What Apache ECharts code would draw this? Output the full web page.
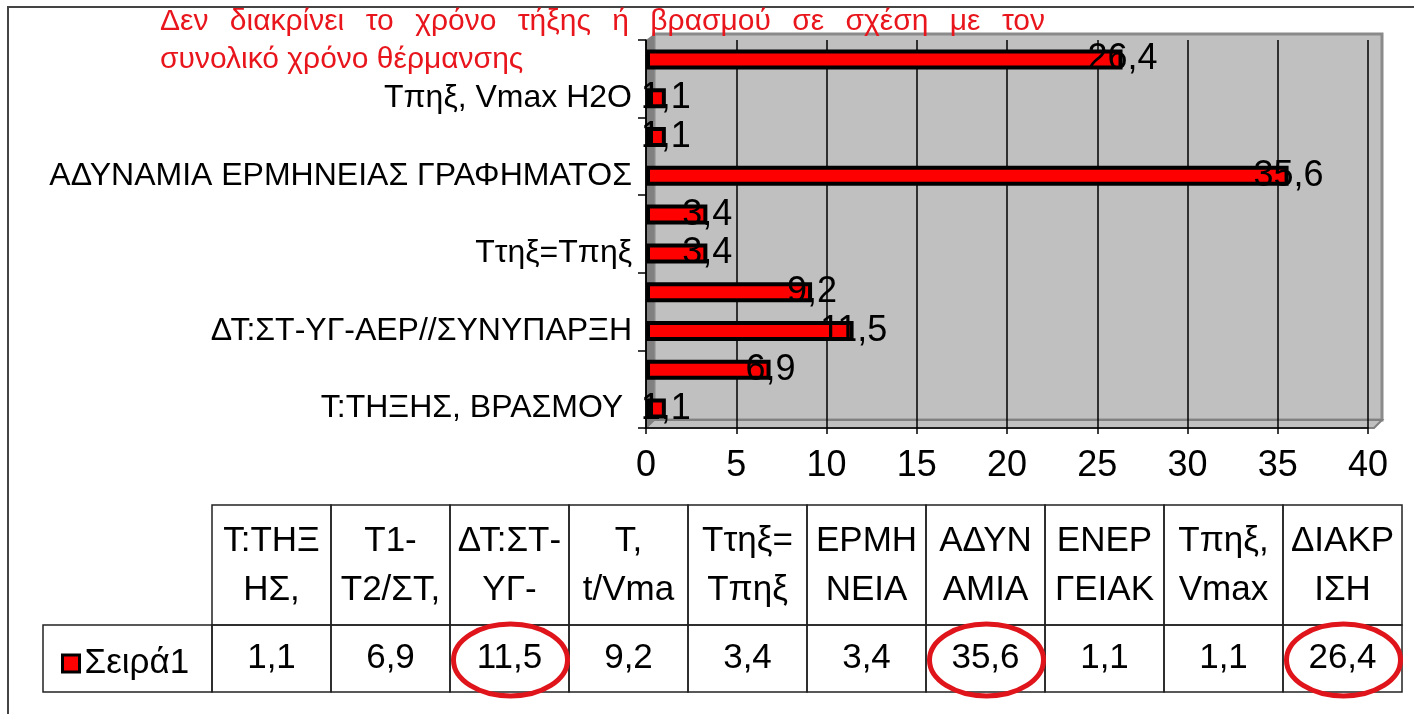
<!DOCTYPE html>
<html>
<head>
<meta charset="utf-8">
<script src="https://cdn.jsdelivr.net/npm/echarts@6/dist/echarts.min.js"></script>
<style>
html, body { margin: 0; padding: 0; background: #fff; }
#main { width: 1414px; height: 714px; }
</style>
</head>
<body>
<div id="main"></div>
<script>
// categories from bottom to top, as the bars are stacked in the chart
var categories = ['Τ:ΤΗΞΗΣ, ΒΡΑΣΜΟΥ ', 'Τ1-Τ2/ΣΤ,', 'ΔΤ:ΣΤ-ΥΓ-ΑΕΡ//ΣΥΝΥΠΑΡΞΗ', 'Τ, t/Vmax', 'Ττηξ=Τπηξ',
                  'ΕΡΜΗΝΕΙΑ', 'ΑΔΥΝΑΜΙΑ ΕΡΜΗΝΕΙΑΣ ΓΡΑΦΗΜΑΤΟΣ', 'ΕΝΕΡΓΕΙΑΚ', 'Τπηξ, Vmax H2O', 'ΔΙΑΚΡΙΣΗ'];
var values = [1.1, 6.9, 11.5, 9.2, 3.4, 3.4, 35.6, 1.1, 1.1, 26.4];
// the data table under the chart cuts the names like this
var tableHeads = [['Τ:ΤΗΞ', 'ΗΣ,'], ['Τ1-', 'Τ2/ΣΤ,'], ['ΔΤ:ΣΤ-', 'ΥΓ-'], ['Τ,', 't/Vma'], ['Ττηξ=', 'Τπηξ'],
                  ['ΕΡΜΗ', 'ΝΕΙΑ'], ['ΑΔΥΝ', 'ΑΜΙΑ'], ['ΕΝΕΡ', 'ΓΕΙΑΚ'], ['Τπηξ,', 'Vmax'], ['ΔΙΑΚΡ', 'ΙΣΗ']];
var circled = [2, 6, 9];
var seriesName = 'Σειρά1';
var xMin = 0, xMax = 40, xStep = 5;
var note = ['Δεν διακρίνει το χρόνο τήξης ή βρασμού σε σχέση με τον', 'συνολικό χρόνο θέρμανσης'];

var FONT = '"Liberation Sans", Arial, sans-serif';
function comma(v) { return String(v).replace('.', ','); }

// plot box
var gL = 646, gR = 1368, gT = 40, gB = 428;

var graphics = [];

// outer frame
graphics.push({ type: 'polyline', shape: { points: [[8, 714], [8, 7], [1414, 7]] },
    style: { stroke: '#444', lineWidth: 2, fill: null }, z: 20 });

// 3d walls
graphics.push({ type: 'rect', shape: { x: gL + 8, y: gT - 6, width: gR - gL + 6, height: gB - gT - 2 },
    style: { fill: '#c0c0c0', stroke: '#8a8a8a', lineWidth: 3 }, z: -2 });
graphics.push({ type: 'polygon', shape: { points: [[gL, gB], [gL, gT], [gL + 8, gT - 6], [gL + 8, gB - 8]] },
    style: { fill: '#808080' }, z: -1 });
graphics.push({ type: 'polygon', shape: { points: [[gL, gB], [gL + 8, gB - 8], [gR + 14, gB - 8], [gR + 6, gB]] },
    style: { fill: '#c0c0c0', stroke: '#808080', lineWidth: 2 }, z: -1 });

// red note, first line justified like in Word
var ctx = document.createElement('canvas').getContext('2d');
var noteFont = '30px ' + FONT;
ctx.font = noteFont;
var words = note[0].split(' ');
var total = 0;
words.forEach(function (w) { total += ctx.measureText(w).width; });
var gap = (1045 - 160 - total) / (words.length - 1);
var nx = 160;
words.forEach(function (w) {
    graphics.push({ type: 'text', x: nx, y: 22, z: 20,
        style: { text: w, font: noteFont, fill: '#e8161c', verticalAlign: 'middle' } });
    nx += ctx.measureText(w).width + gap;
});
graphics.push({ type: 'text', x: 160, y: 60, z: 20,
    style: { text: note[1], font: noteFont, fill: '#e8161c', verticalAlign: 'middle' } });

// data table
var tX = 212, colW = 119, hTop = 505, hH = 120, vH = 67;
var cellFont = '35px ' + FONT;
graphics.push({ type: 'rect', shape: { x: 43, y: hTop + hH, width: tX - 43, height: vH },
    style: { fill: null, stroke: '#222', lineWidth: 1.5 }, z: 20 });
tableHeads.forEach(function (h, i) {
    var x0 = tX + i * colW, cx = x0 + colW / 2;
    graphics.push({ type: 'rect', shape: { x: x0, y: hTop, width: colW, height: hH },
        style: { fill: null, stroke: '#222', lineWidth: 1.5 }, z: 20 });
    graphics.push({ type: 'rect', shape: { x: x0, y: hTop + hH, width: colW, height: vH },
        style: { fill: null, stroke: '#222', lineWidth: 1.5 }, z: 20 });
    graphics.push({ type: 'text', x: cx, y: 541, z: 21,
        style: { text: h[0], font: cellFont, fill: '#000', align: 'center', verticalAlign: 'middle' } });
    graphics.push({ type: 'text', x: cx, y: 590, z: 21,
        style: { text: h[1], font: cellFont, fill: '#000', align: 'center', verticalAlign: 'middle' } });
    graphics.push({ type: 'text', x: cx, y: hTop + hH + vH / 2, z: 21,
        style: { text: comma(values[i]), font: cellFont, fill: '#000', align: 'center', verticalAlign: 'middle' } });
});
circled.forEach(function (i) {
    graphics.push({ type: 'ellipse', shape: { cx: tX + i * colW + colW / 2 + 1, cy: 660, rx: 57, ry: 36 },
        style: { fill: null, stroke: '#e0151b', lineWidth: 5 }, z: 22 });
});

var myChart = echarts.init(document.getElementById('main'));

option = {
    animation: false,
    backgroundColor: '#fff',
    textStyle: { fontFamily: FONT },
    grid: { left: gL, right: 1414 - gR, top: gT, bottom: 714 - gB, containLabel: false },
    legend: {
        data: [seriesName],
        left: 56, top: 641,
        icon: 'rect', itemWidth: 17, itemHeight: 17, itemGap: 8,
        itemStyle: { borderColor: '#000', borderWidth: 3, color: '#ff0000' },
        textStyle: { fontSize: 35, color: '#000', fontFamily: FONT },
        selectedMode: false
    },
    xAxis: {
        type: 'value',
        min: xMin, max: xMax, interval: xStep,
        axisLine: { show: true, lineStyle: { color: '#000', width: 1.5 } },
        axisTick: { show: true, length: 6, lineStyle: { color: '#000', width: 1.5 } },
        axisLabel: { fontSize: 36, color: '#000', margin: 20, fontFamily: FONT },
        splitLine: { show: true, lineStyle: { color: '#000', width: 1.5 } }
    },
    yAxis: {
        type: 'category',
        data: categories,
        axisLine: { show: true, lineStyle: { color: '#000', width: 1.5 } },
        axisTick: { show: true, length: 8, lineStyle: { color: '#000', width: 1.5 } },
        axisLabel: { interval: 1, fontSize: 32, color: '#000', margin: 14, fontFamily: FONT }
    },
    series: [{
        name: seriesName,
        type: 'bar',
        data: values,
        barWidth: 20,
        itemStyle: {
            color: '#ff0000',
            borderColor: '#000',
            borderWidth: 4
        },
        label: {
            show: true,
            position: 'right',
            distance: 0,
            align: 'center',
            fontSize: 36,
            color: '#000',
            fontFamily: FONT,
            formatter: function (p) { return comma(p.value); }
        }
    }],
    graphic: { elements: graphics }
};

myChart.setOption(option);
</script>
</body>
</html>
